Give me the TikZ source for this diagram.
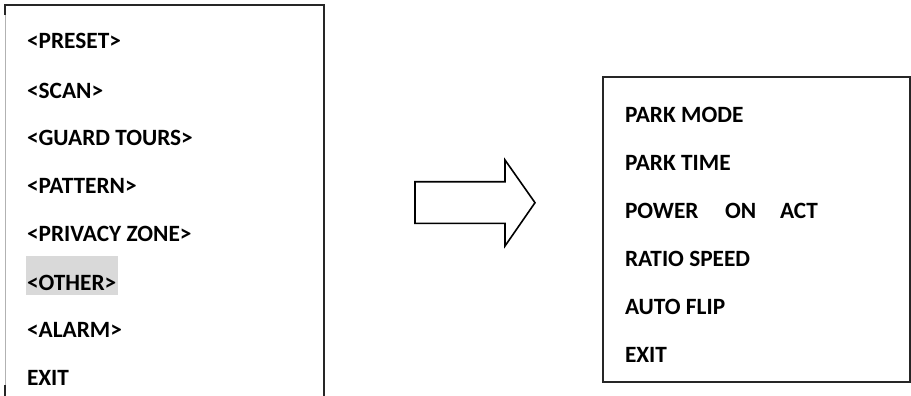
\documentclass[tikz,border=0pt]{standalone}
\usepackage{fontspec}
\setmainfont{Carlito}
\begin{document}
\begin{tikzpicture}[x=0.75pt,y=-0.75pt,
  item/.style={anchor=base west,inner sep=0pt,outer sep=0pt,
    font=\fontsize{17.5pt}{21pt}\selectfont\bfseries,text=black},
  frame/.style={draw=black!85,line width=0.8pt},
  blockarrow/.style={draw=black,line width=1.2pt,line join=miter}]
\useasboundingbox (0,0) rectangle (911,396);

% left menu frame (open at the bottom)
\draw[draw=black!30,line width=0.7pt] (5,15) -- (5,385);
\draw[frame] (5,15) -- (5,5) -- (324,5) -- (324,396);
\draw[frame] (5,385) -- (5,396);

% highlighted entry
\fill[black!15] (26,256) rectangle (118,295);

\node[item] (preset)  at (27,48)  {<PRESET>};
\node[item] (scan)    at (27,98)  {<SCAN>};
\node[item] (guard)   at (27,145) {<GUARD TOURS>};
\node[item] (pattern) at (27,193) {<PATTERN>};
\node[item] (privacy) at (27,241.5) {<PRIVACY ZONE>};
\node[item] (other)   at (27,290) {<OTHER>};
\node[item] (alarm)   at (27,337) {<ALARM>};
\node[item] (exitA)   at (27,385) {EXIT};

% block arrow
\draw[blockarrow] (415,181.7) -- (505,181.7) -- (505,160) -- (535,202.7)
  -- (505,246) -- (505,223.3) -- (415,223.3) -- cycle;

% right menu frame
\draw[frame] (910,77) -- (603,77) -- (603,382) -- (910,382) -- cycle;

\node[item] (parkmode)  at (625,122) {PARK MODE};
\node[item] (parktime)  at (625,170) {PARK TIME};
\node[item] (power)     at (625,218) {POWER};
\node[item] (on)        at (725,218) {ON};
\node[item] (act)       at (780,218) {ACT};
\node[item] (ratio)     at (625,266) {RATIO SPEED};
\node[item] (autoflip)  at (625,314) {AUTO FLIP};
\node[item] (exitB)     at (625,362) {EXIT};
\end{tikzpicture}
\end{document}
